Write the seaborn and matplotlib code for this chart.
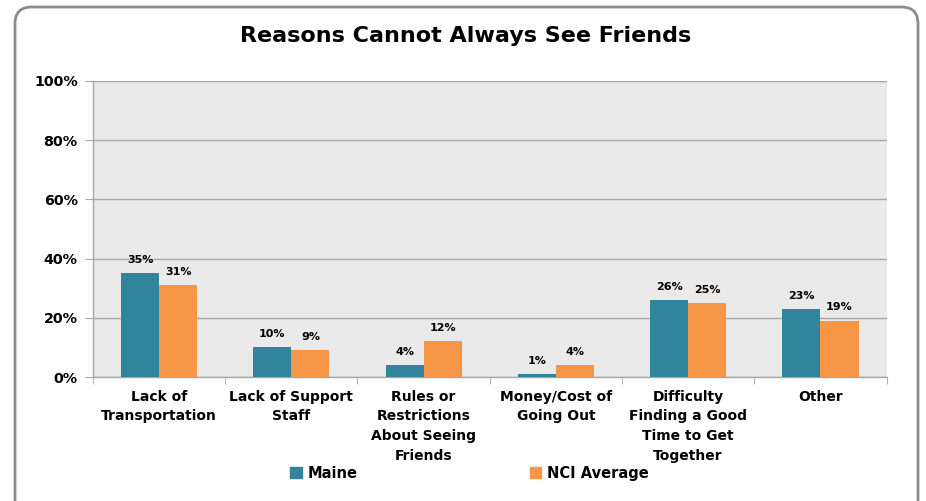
import matplotlib
matplotlib.use("Agg")
import matplotlib.pyplot as plt
from matplotlib.patches import FancyBboxPatch
from matplotlib.ticker import FixedLocator
import pandas as pd
import seaborn as sns

# datos
categories = ["Lack of\nTransportation", "Lack of Support\nStaff",
              "Rules or\nRestrictions\nAbout Seeing\nFriends",
              "Money/Cost of\nGoing Out",
              "Difficulty\nFinding a Good\nTime to Get\nTogether", "Other"]
maine = [35, 10, 4, 1, 26, 23]
nci = [31, 9, 12, 4, 25, 19]
series = ["Maine", "NCI Average"]
colors = ["#31849B", "#F79646"]
y_ticks = [0, 20, 40, 60, 80, 100]

df = pd.DataFrame({
    "cat": categories * 2,
    "val": maine + nci,
    "serie": [series[0]] * len(categories) + [series[1]] * len(categories),
})

sns.set_style("white")
plt.rcParams["font.family"] = ["DejaVu Sans"]
plt.rcParams["font.weight"] = "bold"
plt.rcParams["text.color"] = "black"
plt.rcParams["xtick.color"] = "black"
plt.rcParams["ytick.color"] = "black"

fig = plt.figure(figsize=(9.26, 5.01), dpi=100)
ax = fig.add_axes([0.1004, 0.2475, 0.857, 0.591])

sns.barplot(data=df, x="cat", y="val", hue="serie", hue_order=series,
            palette=colors, width=0.576, gap=0, saturation=1, ax=ax,
            legend=False, linewidth=0, zorder=3)

ax.set_facecolor("#EAEAEA")
ax.set_ylim(0, 100)
ax.set_xlim(-0.5, len(categories) - 0.5)
ax.set_yticks(y_ticks)
ax.set_yticklabels([f"{t}%" for t in y_ticks], fontsize=10.3, fontweight="bold")
ax.set_xticklabels(categories, fontsize=10, fontweight="bold", linespacing=1.52)
ax.grid(axis="y", color="#A6A6A6", linewidth=1, zorder=0)
ax.set_xlabel("")
ax.set_ylabel("")

for s in ["top", "right"]:
    ax.spines[s].set_visible(False)
for s in ["left", "bottom"]:
    ax.spines[s].set_color("#A6A6A6")
    ax.spines[s].set_linewidth(1)

ax.tick_params(axis="y", which="major", length=6, color="#A6A6A6", pad=5,
               left=True, labelcolor="black")
ax.tick_params(axis="x", which="major", length=0, pad=9, labelcolor="black")
ax.xaxis.set_minor_locator(FixedLocator([i - 0.5 for i in range(len(categories) + 1)]))
ax.tick_params(axis="x", which="minor", length=5, color="#A6A6A6", bottom=True)

for cont in ax.containers:
    ax.bar_label(cont, labels=[f"{v:.0f}%" for v in cont.datavalues],
                 padding=6, fontsize=8, fontweight="bold", color="black")

fig.text(466 / 926, 1 - 36 / 501, "Reasons Cannot Always See Friends",
         fontsize=16, fontweight="bold", ha="center", va="center", color="black")

handles = [plt.Rectangle((0, 0), 1, 1, color=c) for c in colors]
fig.legend(handles, series, loc="center", bbox_to_anchor=(469.5 / 926, 0.055), ncol=2,
           frameon=False, prop={"size": 10.5, "weight": "bold"},
           handlelength=0.8, handleheight=0.8, handletextpad=0.4,
           columnspacing=11.8)

# marco redondeado
frame = FancyBboxPatch((15 / 926, -0.1), (918 - 15) / 926, 1.1 - 7 / 501,
                       boxstyle="round,pad=0,rounding_size=0.018",
                       transform=fig.transFigure, fill=False,
                       edgecolor="#8C8C8C", linewidth=2, mutation_aspect=926 / 501)
fig.patches.append(frame)

fig.savefig("out.png", dpi=100)
